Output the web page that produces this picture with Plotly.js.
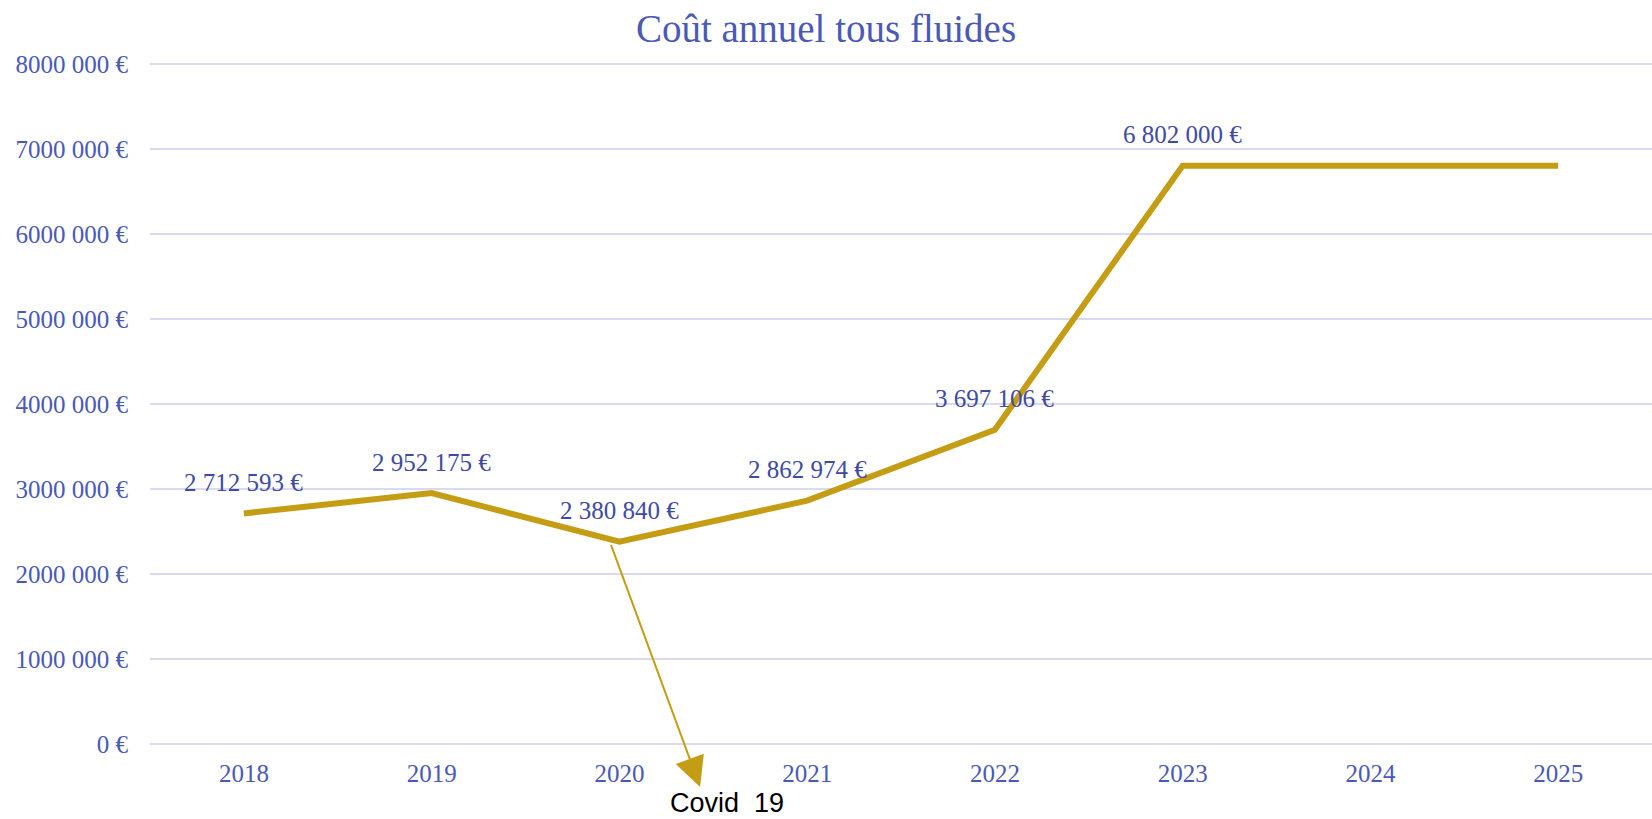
<!DOCTYPE html>
<html>
<head>
<meta charset="utf-8">
<script src="https://cdn.plot.ly/plotly-3.0.1.min.js"></script>
<style>html,body{margin:0;padding:0;background:#fff;}#chart{width:1652px;height:819px;}</style>
</head>
<body>
<div id="chart"></div>
<script>
const years = [2018, 2019, 2020, 2021, 2022, 2023, 2024, 2025];
const costs = [2712593, 2952175, 2380840, 2862974, 3697106, 6802000, 6802000, 6802000];
const labelledYears = [2018, 2019, 2020, 2021, 2022, 2023];
const yTickValues = [0, 1000000, 2000000, 3000000, 4000000, 5000000, 6000000, 7000000, 8000000];
const yTickLabels = ['0 €', '1000 000 €', '2000 000 €', '3000 000 €', '4000 000 €', '5000 000 €', '6000 000 €', '7000 000 €', '8000 000 €'];
const chartTitle = 'Coût annuel tous fluides';
const noteText = 'Covid\u00a0 19';
const noteYear = 2020;

const serif = '"Liberation Serif", "DejaVu Serif", serif';
const blue = '#4a59b8';
const labelBlue = '#404aa3';
const gold = '#c59d15';
const gridColor = '#d9daf0';

function fmt(v) {
  return String(Math.round(v)).replace(/\B(?=(\d{3})+(?!\d))/g, ' ') + ' €';
}

const annotations = [];
labelledYears.forEach(function (yr) {
  const i = years.indexOf(yr);
  annotations.push({
    x: yr, y: costs[i], xref: 'x', yref: 'y',
    text: fmt(costs[i]), showarrow: false,
    xanchor: 'center', yanchor: 'middle', yshift: 31,
    font: {family: serif, size: 25, color: labelBlue}
  });
});
annotations.push({
  x: noteYear + 0.43, y: -0.06, xref: 'x', yref: 'paper',
  text: ' ', showarrow: true, ax: -92, ay: -250,
  arrowhead: 2, arrowsize: 3, arrowwidth: 2, arrowcolor: gold,
  standoff: 0, startstandoff: 0
});
annotations.push({
  x: noteYear + 0.575, y: -0.084, xref: 'x', yref: 'paper',
  text: noteText, showarrow: false, xanchor: 'center', yanchor: 'middle',
  borderpad: 0,
  font: {family: '"Liberation Sans", Arial, sans-serif', size: 27, color: '#000000'}
});

const trace = {
  x: years, y: costs, type: 'scatter', mode: 'lines',
  line: {color: gold, width: 6},
  hoverinfo: 'skip'
};

const pad = 2 * 8000000 / 680;
const layout = {
  width: 1652, height: 819,
  margin: {l: 150, r: 0, t: 62, b: 73},
  paper_bgcolor: '#ffffff', plot_bgcolor: '#ffffff',
  showlegend: false,
  title: {
    text: chartTitle, x: 0.5, xref: 'container', xanchor: 'center',
    y: 1 - 28 / 819, yref: 'container', yanchor: 'middle',
    font: {family: serif, size: 39, color: blue}
  },
  xaxis: {
    range: [years[0] - 0.5, years[years.length - 1] + 0.5],
    tickvals: years, ticktext: years.map(String),
    showgrid: false, zeroline: false, showline: false, ticks: '',
    ticklabelstandoff: 10,
    tickfont: {family: serif, size: 25, color: blue}
  },
  yaxis: {
    range: [-pad, 8000000 + pad],
    tickvals: yTickValues, ticktext: yTickLabels,
    showgrid: true, gridcolor: gridColor, gridwidth: 2,
    zeroline: true, zerolinecolor: gridColor, zerolinewidth: 2,
    showline: false, ticks: '',
    ticklabelstandoff: 21,
    tickfont: {family: serif, size: 25, color: blue}
  },
  annotations: annotations
};

Plotly.newPlot('chart', [trace], layout, {displayModeBar: false, staticPlot: true});
</script>
</body>
</html>
